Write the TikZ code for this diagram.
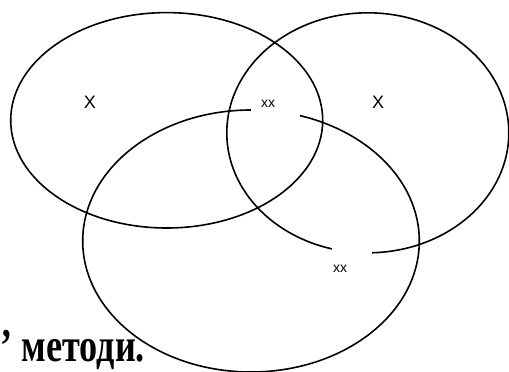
\documentclass[tikz,border=0pt]{standalone}
\usepackage{graphicx}
\usepackage{fontspec}
\setmainfont{Liberation Serif}
\newfontfamily\arial{Liberation Sans}
\usetikzlibrary{positioning}

\begin{document}
\begin{tikzpicture}[x=1pt,y=-1pt,
    setline/.style={black, line width=1.6pt},
    gapmask/.style={fill=white, inner sep=0pt},
    biglabel/.style={font=\arial\fontsize{18}{18}\selectfont, inner sep=0pt},
    smalllabel/.style={font=\arial\fontsize{14}{14}\selectfont, inner sep=0pt}]
                    \useasboundingbox (0,0) rectangle (509,372);
                    % the three sets
                    \draw[setline] (166.7,120.3) ellipse (156 and 107.7);
                    \draw[setline] (367.8,132.8) ellipse (141 and 120);
                    \draw[setline] (251,241) ellipse (168.3 and 131);
                    % gaps in the outlines behind the xx labels
                    \node[gapmask, minimum width=49.5pt, minimum height=18pt] (gapA) at (275.5,111) {};
                    \node[gapmask, minimum width=40pt, minimum height=16pt] (gapB) at (352,250) {};
                    % labels
                    \node[biglabel] (labA) at (90,102) {X};
                    \node[biglabel] (labB) at (378,102) {X};
                    \node[smalllabel] (labAB) at (268,104) {xx};
                    \node[smalllabel] (labBC) at (340,269) {xx};
                    \node[font=\bfseries\fontsize{47}{47}\selectfont, inner sep=0pt, anchor=base west] (caption) at (0.3,361.7) {\scalebox{0.77}[1]{’ методи.}};
                \end{tikzpicture}
\end{document}
